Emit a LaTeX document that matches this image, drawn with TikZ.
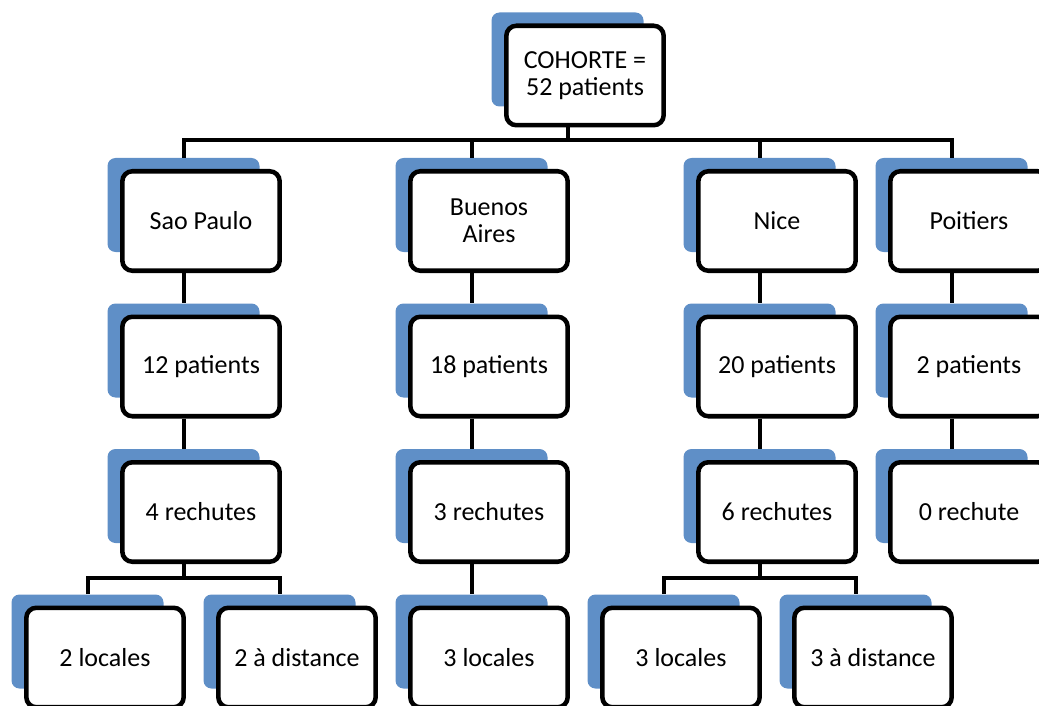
\documentclass[tikz,border=0pt]{standalone}
\usepackage{fontspec}
\setmainfont{Carlito}
\usetikzlibrary{calc}
\definecolor{shblue}{RGB}{95,143,199}
\newcommand\tbox[4]{%
  \node[shadowbox] (s#1) at (#2,#3) {};
  \node[whitebox] (#1) at ($(s#1)+(17.5,16)$) {#4};}
\begin{document}
\begin{tikzpicture}[x=0.75pt,y=-0.75pt,
  shadowbox/.style={fill=shblue, draw=none, rounded corners=6pt, minimum width=114pt, minimum height=70.5pt, inner sep=0pt},
  whitebox/.style={fill=white, draw=black, line width=3.4pt, rounded corners=7.5pt, minimum width=118pt, minimum height=74.6pt, inner sep=0pt, align=center, font=\fontsize{19.5}{20.5}\selectfont},
  conn/.style={draw=black, line width=3pt, line join=miter}]
\useasboundingbox (0,0) rectangle (1039,706);
\clip (0,0) rectangle (1039,706);
% top
\tbox{c}{567.5}{59.5}{COHORTE =\\52 patients}
% level 1
\tbox{sp}{183.5}{205}{Sao Paulo}
\tbox{ba}{471.5}{205}{Buenos\\Aires}
\tbox{ni}{759.5}{205}{Nice}
\tbox{po}{951.5}{205}{Poitiers}
% level 2
\tbox{spb}{183.5}{350.5}{12 patients}
\tbox{bab}{471.5}{350.5}{18 patients}
\tbox{nib}{759.5}{350.5}{20 patients}
\tbox{pob}{951.5}{350.5}{2 patients}
% level 3
\tbox{spc}{183.5}{496}{4 rechutes}
\tbox{bac}{471.5}{496}{3 rechutes}
\tbox{nic}{759.5}{496}{6 rechutes}
\tbox{poc}{951.5}{496}{0 rechute}
% level 4
\tbox{spl}{87.5}{641.5}{2 locales}
\tbox{spd}{279.5}{641.5}{2 à distance}
\tbox{bal}{471.5}{641.5}{3 locales}
\tbox{nil}{663.5}{641.5}{3 locales}
\tbox{nid}{855.5}{641.5}{3 à distance}
% connectors
\coordinate (y0) at (0,140);
\coordinate (y3) at (0,578);
\draw[conn] (sc |- c.south) -- (sc |- y0);
\draw[conn] (ssp.north) -- (ssp |- y0) -- (spo |- y0) -- (spo.north);
\draw[conn] (sba |- y0) -- (sba.north);
\draw[conn] (sni |- y0) -- (sni.north);
\foreach \a/\b in {sp/spb,ba/bab,ni/nib,po/pob,spb/spc,bab/bac,nib/nic,pob/poc,bac/bal}
  \draw[conn] (s\a |- \a.south) -- (s\b.north);
\draw[conn] (sspc |- spc.south) -- (sspc |- y3);
\draw[conn] (sspl.north) -- (sspl |- y3) -- (sspd |- y3) -- (sspd.north);
\draw[conn] (snic |- nic.south) -- (snic |- y3);
\draw[conn] (snil.north) -- (snil |- y3) -- (snid |- y3) -- (snid.north);
\end{tikzpicture}
\end{document}
